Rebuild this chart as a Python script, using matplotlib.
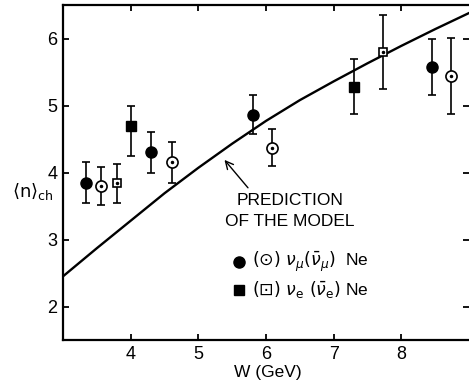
"""Mean charged multiplicity versus hadronic mass W with model prediction."""
import matplotlib

matplotlib.use("Agg")
import matplotlib.pyplot as plt

# nu_mu Ne (filled circles) and anti-nu_mu Ne (open circles)
numu_w = [3.34, 4.30, 5.81, 8.45]
numu_n = [3.85, 4.30, 4.86, 5.58]
numu_err = [0.30, 0.30, 0.29, 0.42]

numubar_w = [3.56, 4.61, 6.09, 8.73]
numubar_n = [3.80, 4.15, 4.37, 5.44]
numubar_err = [0.28, 0.30, 0.28, 0.57]

# nu_e Ne (filled squares) and anti-nu_e Ne (open squares)
nue_w = [4.00, 7.30]
nue_n = [4.70, 5.27]
nue_err_lo = [0.45, 0.40]
nue_err_hi = [0.30, 0.43]

nuebar_w = [3.80, 7.73]
nuebar_n = [3.84, 5.80]
nuebar_err = [0.29, 0.55]

# model prediction
model_w = [3.0, 3.5, 4.0, 4.5, 5.0, 5.5, 6.0, 6.5, 7.0, 7.5, 8.0, 8.5, 9.0]
model_n = [2.45, 2.87, 3.28, 3.69, 4.07, 4.43, 4.77, 5.08, 5.36, 5.63, 5.89, 6.14, 6.38]

plt.rcParams.update(
    {
        "font.family": "Liberation Sans",
        "mathtext.fontset": "dejavusans",
        "font.size": 13,
    }
)

fig = plt.figure(figsize=(4.69, 3.86), dpi=100)
ax = fig.add_axes([63 / 469, 46 / 386, 406 / 469, 335 / 386])

ax.plot(model_w, model_n, color="black", linewidth=1.7, zorder=2)

err_style = dict(
    fmt="none", ecolor="black", elinewidth=1.2, capsize=3.2, capthick=1.2, zorder=3
)
ax.errorbar(numu_w, numu_n, yerr=numu_err, **err_style)
ax.errorbar(numubar_w, numubar_n, yerr=numubar_err, **err_style)
ax.errorbar(nue_w, nue_n, yerr=[nue_err_lo, nue_err_hi], **err_style)
ax.errorbar(nuebar_w, nuebar_n, yerr=nuebar_err, **err_style)

ax.plot(numu_w, numu_n, "o", color="black", markersize=8, zorder=4, linestyle="none")
ax.plot(nue_w, nue_n, "s", color="black", markersize=7, zorder=4, linestyle="none")
ax.plot(numubar_w, numubar_n, "o", markerfacecolor="white", markeredgecolor="black",
        markeredgewidth=1.2, markersize=8, zorder=4, linestyle="none")
ax.plot(nuebar_w, nuebar_n, "s", markerfacecolor="white", markeredgecolor="black",
        markeredgewidth=1.2, markersize=6, zorder=4, linestyle="none")
for xs, ys in ((numubar_w, numubar_n), (nuebar_w, nuebar_n)):
    ax.plot(xs, ys, "o", color="black", markersize=1.5, zorder=5, linestyle="none")

ax.set_xlim(3, 9)
ax.set_ylim(1.5, 6.5)
ax.set_xticks([4, 5, 6, 7, 8])
ax.set_yticks([2, 3, 4, 5, 6])
ax.tick_params(direction="in", length=4, width=1.3, top=True, right=True,
               labelsize=13)
ax.tick_params(axis="x", pad=4)
ax.tick_params(axis="y", pad=4)
for side in ("left", "bottom", "top"):
    ax.spines[side].set_linewidth(1.6)
ax.spines["right"].set_visible(False)

ax.text(-30 / 406, 149 / 335, r"$\langle\mathrm{n}\rangle_{\mathrm{ch}}$",
        transform=ax.transAxes, ha="center", va="center", fontsize=13)
ax.text(205 / 406, -32 / 335, "W (GeV)", transform=ax.transAxes,
        ha="center", va="center", fontsize=12.5)

ax.annotate(
    "",
    xy=(5.36, 4.22),
    xytext=(5.76, 3.74),
    arrowprops=dict(arrowstyle="->", color="black", linewidth=1.0,
                    mutation_scale=14),
)
ax.text(6.35, 3.58, "PREDICTION", ha="center", va="center", fontsize=12.5)
ax.text(6.35, 3.27, "OF THE MODEL", ha="center", va="center", fontsize=12.5)

# key
ax.plot([176 / 406], [78 / 335], "o", color="black", markersize=8,
        transform=ax.transAxes, clip_on=False)
ax.plot([176 / 406], [50 / 335], "s", color="black", markersize=7,
        transform=ax.transAxes, clip_on=False)
ax.text(189 / 406, 78 / 335, r"$(\odot)\ \nu_\mu(\bar{\nu}_\mu)$  Ne",
        transform=ax.transAxes, ha="left", va="center", fontsize=12.5)
ax.text(189 / 406, 50 / 335, r"$(\boxdot)\ \nu_\mathrm{e}\ (\bar{\nu}_\mathrm{e})$ Ne",
        transform=ax.transAxes, ha="left", va="center", fontsize=12.5)

fig.savefig("out.png", dpi=100)
